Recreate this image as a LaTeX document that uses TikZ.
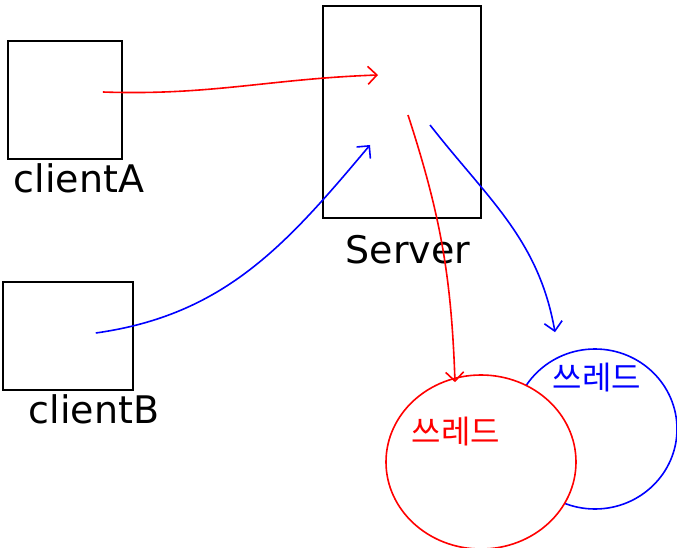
\documentclass[tikz,border=0pt]{standalone}
\usepackage{fontspec}
\setmainfont{DejaVu Sans}
\newfontfamily\kofont{Noto Sans CJK KR}
\usetikzlibrary{shapes.geometric,arrows.meta,positioning}
\begin{document}
\begin{tikzpicture}[
        x=1pt, y=-1pt,
        line width=1.6pt,
        box/.style={rectangle, draw=black, minimum width=#1},
        thread/.style={ellipse, draw, fill=white, minimum width=#1},
        name_label/.style={font=\fontsize{38}{40}\selectfont, text=black},
        thread_label/.style={font=\kofont\fontsize{32}{34}\selectfont},
        arrow/.style={-{Straight Barb[length=9pt,width=18pt]}}
    ]
        \useasboundingbox (0,0) rectangle (677,548);

        % Clients
        \node[box=114pt, minimum height=118pt] (clientA) at (65,100) {};
        \node[name_label, below=0pt of clientA, xshift=14pt] (clientA_label) {clientA};
        \node[box=130pt, minimum height=108pt] (clientB) at (68,336) {};
        \node[name_label, below=0pt of clientB, xshift=26pt] (clientB_label) {clientB};

        % Server
        \node[box=158pt, minimum height=212pt] (server) at (402,112) {};
        \node[name_label, below=12pt of server, xshift=6pt] (server_label) {Server};

        % Threads
        \node[thread=164pt, minimum height=160pt, draw=blue] (thread_blue) at (595,429) {};
        \node[thread=190pt, minimum height=174pt, draw=red] (thread_red) at (481,462) {};
        \node[thread_label, text=blue] (thread_blue_label) at (597,378) {쓰레드};
        \node[thread_label, text=red] (thread_red_label) at (456,432) {쓰레드};

        % Arrows
        \draw[arrow, red] ([xshift=-20pt,yshift=8pt]clientA.east) to[out=-2,in=182] ([xshift=-24pt,yshift=37pt]server.center);
        \draw[arrow, blue] ([xshift=-38pt,yshift=3pt]clientB.east) to[out=8,in=-130] ([xshift=-32pt,yshift=-33pt]server.center);
        \draw[arrow, red] ([xshift=6pt,yshift=-3pt]server.center) to[out=-72,in=92] ([xshift=-26pt,yshift=-8pt]thread_red.north);
        \draw[arrow, blue] ([xshift=28pt,yshift=-13pt]server.center) to[out=-52,in=100] ([xshift=-40pt,yshift=16pt]thread_blue.north);
    \end{tikzpicture}
\end{document}
